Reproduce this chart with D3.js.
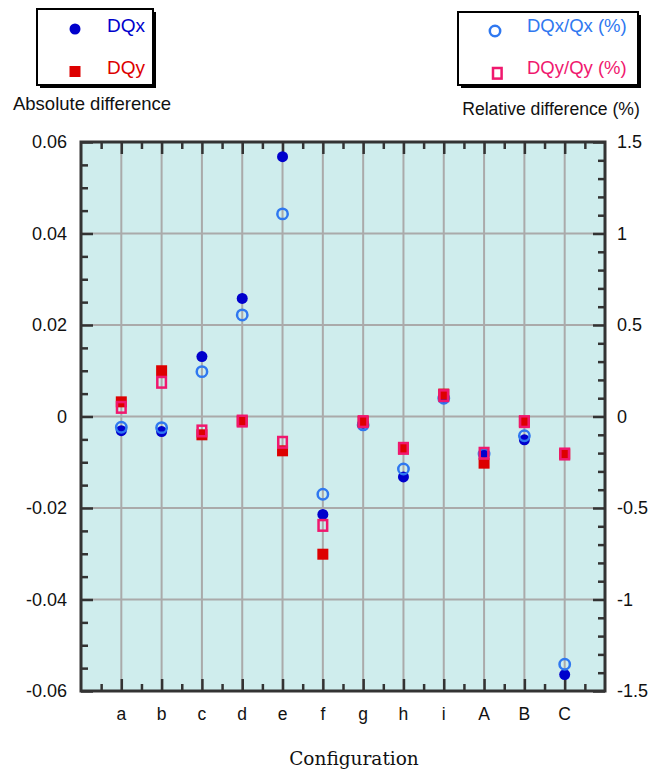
<!DOCTYPE html>
<html>
<head>
<meta charset="utf-8">
<script src="https://cdn.jsdelivr.net/npm/d3@7"></script>
<style>
  html, body { margin: 0; padding: 0; background: #fff; }
  svg { display: block; font-family: "Liberation Sans", Arial, sans-serif; }
</style>
</head>
<body>
<svg id="chart" width="651" height="774"></svg>
<script>
// Configurations along the x axis
const categories = ["a", "b", "c", "d", "e", "f", "g", "h", "i", "A", "B", "C"];

// Absolute differences (left axis)
const dqx = [-0.0031, -0.0033, 0.0131, 0.0258, 0.0568, -0.0214, -0.0015, -0.0132, 0.0040, -0.0082, -0.0051, -0.0564];
const dqy = [0.0032, 0.0100, -0.0040, -0.0010, -0.0075, -0.0301, -0.0011, -0.0070, 0.0049, -0.0102, -0.0011, -0.0082];

// Relative differences in % (right axis)
const dqxRel = [-0.059, -0.061, 0.245, 0.555, 1.107, -0.425, -0.046, -0.287, 0.100, -0.205, -0.105, -1.354];
const dqyRel = [0.050, 0.187, -0.079, -0.025, -0.141, -0.595, -0.028, -0.174, 0.114, -0.201, -0.028, -0.205];

// Tick labels
const leftTicks = [0.06, 0.04, 0.02, 0, -0.02, -0.04, -0.06];
const leftTickLabels = ["0.06", "0.04", "0.02", "0", "-0.02", "-0.04", "-0.06"];
const rightTicks = [1.5, 1, 0.5, 0, -0.5, -1, -1.5];
const rightTickLabels = ["1.5", "1", "0.5", "0", "-0.5", "-1", "-1.5"];

const col = {
  dqx: "#0000cc",
  dqxRel: "#2f78f0",
  dqy: "#dd0000",
  dqyRel: "#f0186e",
  frame: "#333333",
  grid: "#aaaaaa",
  bg: "#cfeded"
};

const svg = d3.select("#chart");
const plot = { left: 81, right: 605, top: 142, bottom: 691 };

const x = d3.scaleLinear().domain([0, categories.length + 1]).range([plot.left, plot.right]);
const yL = d3.scaleLinear().domain([-0.06, 0.06]).range([plot.bottom, plot.top]);
const yR = d3.scaleLinear().domain([-1.5, 1.5]).range([plot.bottom, plot.top]);

// Plot background
svg.append("rect")
  .attr("x", plot.left).attr("y", plot.top)
  .attr("width", plot.right - plot.left).attr("height", plot.bottom - plot.top)
  .attr("fill", col.bg);

// Grid lines
const grid = svg.append("g").attr("stroke", col.grid).attr("stroke-width", 2);
grid.selectAll("line.v").data(categories).join("line")
  .attr("class", "v")
  .attr("x1", (d, i) => x(i + 1)).attr("x2", (d, i) => x(i + 1))
  .attr("y1", plot.top).attr("y2", plot.bottom);
grid.selectAll("line.h").data(leftTicks.filter(t => Math.abs(t) < 0.059)).join("line")
  .attr("class", "h")
  .attr("x1", plot.left).attr("x2", plot.right)
  .attr("y1", d => yL(d)).attr("y2", d => yL(d));

// Inward ticks with d3 axes
function styleAxis(g) {
  g.select(".domain").remove();
  g.selectAll(".tick line").attr("stroke", col.frame).attr("stroke-width", 2.5);
  g.selectAll(".tick text").remove();
}
const minorLeft = d3.range(-0.06, 0.0601, 0.005).map(v => +v.toFixed(3)).filter(v => !leftTicks.includes(v));
const minorRight = d3.range(-1.5, 1.501, 0.1).map(v => +v.toFixed(2)).filter(v => !rightTicks.includes(v));
const majorX = d3.range(1, categories.length + 1);
const minorX = d3.range(0.5, categories.length + 1, 1);

svg.append("g").attr("transform", `translate(${plot.left},0)`)
  .call(d3.axisRight(yL).tickValues(leftTicks).tickSize(12)).call(styleAxis);
svg.append("g").attr("transform", `translate(${plot.left},0)`)
  .call(d3.axisRight(yL).tickValues(minorLeft).tickSize(7)).call(styleAxis);
svg.append("g").attr("transform", `translate(${plot.right},0)`)
  .call(d3.axisLeft(yR).tickValues(rightTicks).tickSize(12)).call(styleAxis);
svg.append("g").attr("transform", `translate(${plot.right},0)`)
  .call(d3.axisLeft(yR).tickValues(minorRight).tickSize(7)).call(styleAxis);
svg.append("g").attr("transform", `translate(0,${plot.top})`)
  .call(d3.axisBottom(x).tickValues(majorX).tickSize(12)).call(styleAxis);
svg.append("g").attr("transform", `translate(0,${plot.top})`)
  .call(d3.axisBottom(x).tickValues(minorX).tickSize(7)).call(styleAxis);
svg.append("g").attr("transform", `translate(0,${plot.bottom})`)
  .call(d3.axisTop(x).tickValues(majorX).tickSize(12)).call(styleAxis);
svg.append("g").attr("transform", `translate(0,${plot.bottom})`)
  .call(d3.axisTop(x).tickValues(minorX).tickSize(7)).call(styleAxis);

// Frame
svg.append("rect")
  .attr("x", plot.left).attr("y", plot.top)
  .attr("width", plot.right - plot.left).attr("height", plot.bottom - plot.top)
  .attr("fill", "none").attr("stroke", col.frame).attr("stroke-width", 3);

// Tick labels
svg.append("g").selectAll("text").data(leftTicks).join("text")
  .attr("x", 67).attr("y", d => yL(d)).attr("dy", "0.35em")
  .attr("text-anchor", "end").attr("font-size", 18).attr("fill", "#111")
  .text((d, i) => leftTickLabels[i]);
svg.append("g").selectAll("text").data(rightTicks).join("text")
  .attr("x", 617).attr("y", d => yR(d)).attr("dy", "0.35em")
  .attr("text-anchor", "start").attr("font-size", 18).attr("fill", "#111")
  .text((d, i) => rightTickLabels[i]);
svg.append("g").selectAll("text").data(categories).join("text")
  .attr("x", (d, i) => x(i + 1)).attr("y", 720)
  .attr("text-anchor", "middle").attr("font-size", 17.5).attr("fill", "#111")
  .text(d => d);

// Axis title
svg.append("text")
  .attr("x", 354).attr("y", 765)
  .attr("text-anchor", "middle")
  .attr("font-family", "'DejaVu Serif', serif")
  .attr("font-size", 18.5).attr("fill", "#111")
  .text("Configuration");

// Markers
const marks = svg.append("g");
marks.append("g").selectAll("circle").data(dqx).join("circle")
  .attr("cx", (d, i) => x(i + 1)).attr("cy", d => yL(d))
  .attr("r", 5.5).attr("fill", col.dqx);
marks.append("g").selectAll("circle").data(dqxRel).join("circle")
  .attr("cx", (d, i) => x(i + 1)).attr("cy", d => yR(d))
  .attr("r", 5.2).attr("fill", "none").attr("stroke", col.dqxRel).attr("stroke-width", 2.5);
marks.append("g").selectAll("rect").data(dqy).join("rect")
  .attr("x", (d, i) => x(i + 1) - 5.5).attr("y", d => yL(d) - 5.5)
  .attr("width", 11).attr("height", 11).attr("fill", col.dqy);
marks.append("g").selectAll("rect").data(dqyRel).join("rect")
  .attr("x", (d, i) => x(i + 1) - 4.3).attr("y", d => yR(d) - 5.3)
  .attr("width", 8.6).attr("height", 10.6)
  .attr("fill", "none").attr("stroke", col.dqyRel).attr("stroke-width", 2.5);

// Legend boxes
function legendBox(x0, y0, w, h) {
  svg.append("rect").attr("x", x0 + 3).attr("y", y0 + 3).attr("width", w).attr("height", h).attr("fill", "#000");
  svg.append("rect").attr("x", x0).attr("y", y0).attr("width", w).attr("height", h)
    .attr("fill", "#fff").attr("stroke", "#000").attr("stroke-width", 2);
}

legendBox(37, 9, 116, 76);
svg.append("circle").attr("cx", 75).attr("cy", 29).attr("r", 5.5).attr("fill", col.dqx);
svg.append("text").attr("x", 107).attr("y", 32).attr("font-size", 19).attr("fill", col.dqx).text("DQx");
svg.append("rect").attr("x", 69.5).attr("y", 66).attr("width", 11).attr("height", 11).attr("fill", col.dqy);
svg.append("text").attr("x", 107).attr("y", 74).attr("font-size", 19).attr("fill", col.dqy).text("DQy");
svg.append("text").attr("x", 92).attr("y", 110).attr("text-anchor", "middle").attr("font-size", 18.5).attr("fill", "#111").text("Absolute difference");

legendBox(458, 12, 180, 73);
svg.append("circle").attr("cx", 495).attr("cy", 31).attr("r", 5.2).attr("fill", "none").attr("stroke", col.dqxRel).attr("stroke-width", 2.5);
svg.append("text").attr("x", 527).attr("y", 32).attr("font-size", 18.5).attr("fill", col.dqxRel).text("DQx/Qx (%)");
svg.append("rect").attr("x", 493).attr("y", 68).attr("width", 8.6).attr("height", 10.6).attr("fill", "none").attr("stroke", col.dqyRel).attr("stroke-width", 2.5);
svg.append("text").attr("x", 527).attr("y", 74).attr("font-size", 18.5).attr("fill", col.dqyRel).text("DQy/Qy (%)");
svg.append("text").attr("x", 551).attr("y", 115).attr("text-anchor", "middle").attr("font-size", 17.6).attr("fill", "#111").text("Relative difference (%)");
</script>
</body>
</html>
